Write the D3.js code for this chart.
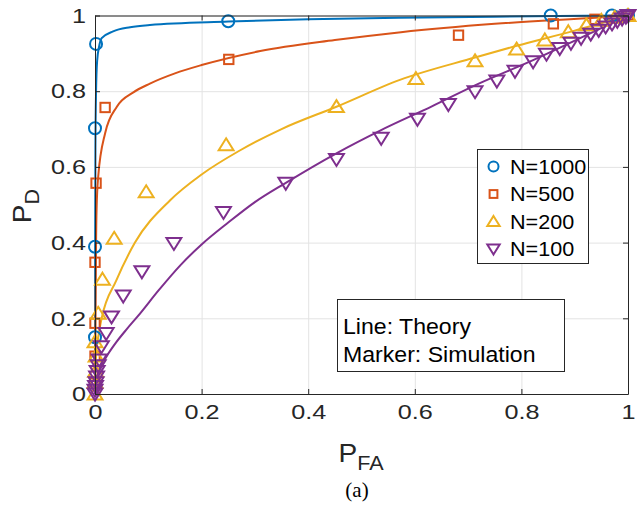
<!DOCTYPE html>
<html>
<head>
<meta charset="utf-8">
<script src="https://cdn.jsdelivr.net/npm/d3@7"></script>
<style>
  body { margin: 0; background: #fff; }
  svg { display: block; font-family: "Liberation Sans", Arial, Helvetica, sans-serif; }
</style>
</head>
<body>
<svg id="chart"></svg>
<script>
let width = 637;
let height = 508;

// axis ticks
let pfaTicks = [0, 0.2, 0.4, 0.6, 0.8, 1];
let pdTicks = [0, 0.2, 0.4, 0.6, 0.8, 1];

let seriesNames = ['N=1000', 'N=500', 'N=200', 'N=100'];
let seriesColors = ['#0072BD', '#D95319', '#EDB120', '#7E2F8E'];
let seriesMarkers = ['circle', 'square', 'triangleUp', 'triangleDown'];

// theory curves [PFA, PD]
let theoryN1000 = [[0, 0], [0.0003, 0.4], [0.0008, 0.65], [0.002, 0.8], [0.004, 0.88], [0.008, 0.92],
  [0.0125, 0.94], [0.034, 0.958], [0.066, 0.969], [0.103, 0.975], [0.25, 0.984], [0.4, 0.99],
  [0.57, 0.994], [0.75, 0.997], [1, 1]];
let theoryN500 = [[0, 0], [0.001, 0.2], [0.002, 0.4], [0.003, 0.49], [0.006, 0.574], [0.019, 0.689],
  [0.041, 0.759], [0.072, 0.797], [0.103, 0.82], [0.15, 0.847], [0.2, 0.869], [0.31, 0.906],
  [0.45, 0.935], [0.574, 0.956], [0.75, 0.978], [0.947, 0.995], [1, 1]];
let theoryN200 = [[0, 0], [0.002, 0.1], [0.006, 0.15], [0.0125, 0.2], [0.04, 0.3], [0.075, 0.4],
  [0.141, 0.512], [0.2, 0.58], [0.27, 0.642], [0.35, 0.7], [0.453, 0.759], [0.572, 0.83],
  [0.713, 0.889], [0.791, 0.92], [0.9, 0.96], [1, 1]];
let theoryN100 = [[0, 0], [0.003, 0.04], [0.01, 0.07], [0.022, 0.1], [0.04, 0.137], [0.06, 0.172],
  [0.08, 0.205], [0.12, 0.275], [0.16, 0.34], [0.2, 0.395], [0.25, 0.453], [0.3, 0.507], [0.358, 0.558],
  [0.453, 0.636], [0.535, 0.696], [0.632, 0.76], [0.72, 0.82], [0.822, 0.882], [0.916, 0.944], [1, 1]];

// simulation markers [PFA, PD]
let simN1000 = [[0, 0.15], [0, 0.389], [0, 0.702], [0.002, 0.925], [0.25, 0.985], [0.855, 1.0],
  [0.97, 1.0], [1, 1]];
let simN500 = [[0, 0.03], [0, 0.1], [0, 0.187], [0, 0.348], [0.002, 0.557], [0.019, 0.757],
  [0.251, 0.884], [0.682, 0.948], [0.86, 0.978], [0.938, 0.99], [1, 1]];
let simN200 = [[0, 0], [0, 0.03], [0.001, 0.06], [0.002, 0.1], [0, 0.138], [0.006, 0.213],
  [0.014, 0.303], [0.036, 0.411], [0.096, 0.534], [0.246, 0.658], [0.453, 0.759], [0.602, 0.833],
  [0.713, 0.88], [0.791, 0.911], [0.844, 0.935], [0.888, 0.957], [0.922, 0.975], [0.95, 0.987],
  [0.975, 0.995], [1, 1]];
let simN100 = [[0, 0], [0, 0.01], [0.001, 0.02], [0.002, 0.03], [0.003, 0.045], [0.004, 0.06],
  [0.006, 0.075], [0.008, 0.09], [0.012, 0.125], [0.021, 0.16], [0.031, 0.204], [0.053, 0.259],
  [0.088, 0.323], [0.148, 0.398], [0.241, 0.48], [0.358, 0.557], [0.453, 0.62], [0.537, 0.676],
  [0.605, 0.726], [0.663, 0.765], [0.713, 0.799], [0.754, 0.827], [0.788, 0.853], [0.822, 0.878],
  [0.847, 0.898], [0.872, 0.913], [0.893, 0.927], [0.912, 0.94], [0.93, 0.951], [0.945, 0.961],
  [0.958, 0.97], [0.97, 0.978], [0.98, 0.985], [0.989, 0.991], [0.996, 0.996], [1, 1]];

let theory = [theoryN1000, theoryN500, theoryN200, theoryN100];
let sims = [simN1000, simN500, simN200, simN100];

let plotLeft = 95, plotRight = 628, plotTop = 15.5, plotBottom = 394;
let axisColor = '#262626';
let tickStretch = 1.2;

let xScale = d3.scaleLinear().domain([0, 1]).range([plotLeft, plotRight]);
let yScale = d3.scaleLinear().domain([0, 1]).range([plotBottom, plotTop]);

let svg = d3.select('#chart')
  .attr('width', width)
  .attr('height', height);

svg.append('rect').attr('width', width).attr('height', height).attr('fill', '#fff');

// grid
svg.append('g')
    .attr('transform', `translate(0, ${plotBottom})`)
    .classed('grid', true)
  .call(d3.axisBottom(xScale).tickValues(pfaTicks).tickSize(-(plotBottom - plotTop)).tickFormat(''));
svg.append('g')
    .attr('transform', `translate(${plotLeft}, 0)`)
    .classed('grid', true)
  .call(d3.axisLeft(yScale).tickValues(pdTicks).tickSize(-(plotRight - plotLeft)).tickFormat(''));
svg.selectAll('.grid .domain').remove();
svg.selectAll('.grid line').attr('stroke', '#e3e3e3').attr('stroke-width', 1);

// theory lines
let line = d3.line()
  .x(d => xScale(d[0]))
  .y(d => yScale(d[1]))
  .curve(d3.curveMonotoneX);

svg.append('g')
  .selectAll('path')
  .data(theory)
  .enter()
  .append('path')
    .attr('d', line)
    .attr('fill', 'none')
    .attr('stroke', (d, i) => seriesColors[i])
    .attr('stroke-width', 2);

// markers
function drawMarker(g, type, color, size) {
  if (type === 'circle') {
    g.append('circle').attr('r', size * 0.5).attr('fill', 'none')
      .attr('stroke', color).attr('stroke-width', 2);
  } else if (type === 'square') {
    let s = size * 0.78;
    g.append('rect').attr('x', -s / 2).attr('y', -s / 2).attr('width', s).attr('height', s)
      .attr('fill', 'none').attr('stroke', color).attr('stroke-width', 2);
  } else {
    let w = size * 0.62, h = size * 0.5;
    let pts = type === 'triangleUp'
      ? [[0, -h * 1.1], [w, h * 0.9], [-w, h * 0.9]]
      : [[0, h * 1.1], [w, -h * 0.9], [-w, -h * 0.9]];
    g.append('path').attr('d', 'M' + pts.join('L') + 'Z').attr('fill', 'none')
      .attr('stroke', color).attr('stroke-width', 2).attr('stroke-linejoin', 'miter');
  }
}

sims.forEach((s, i) => {
  svg.append('g')
    .selectAll('g')
    .data(s)
    .enter()
    .append('g')
      .attr('transform', d => `translate(${xScale(d[0])}, ${yScale(d[1])})`)
      .each(function () { drawMarker(d3.select(this), seriesMarkers[i], seriesColors[i], 12); });
});

// axes (box with inward ticks)
let fmt = d3.format('~g');
let xAxis = svg.append('g')
    .attr('transform', `translate(0, ${plotBottom})`)
  .call(d3.axisBottom(xScale).tickValues(pfaTicks).tickSize(-5).tickSizeOuter(0)
    .tickPadding(10).tickFormat(fmt));
let xTop = svg.append('g')
    .attr('transform', `translate(0, ${plotTop})`)
  .call(d3.axisTop(xScale).tickValues(pfaTicks).tickSize(-5).tickSizeOuter(0).tickFormat(''));
let yAxis = svg.append('g')
    .attr('transform', `translate(${plotLeft}, 0)`)
  .call(d3.axisLeft(yScale).tickValues(pdTicks).tickSize(-5).tickSizeOuter(0)
    .tickPadding(9 / tickStretch).tickFormat(fmt));
let yRight = svg.append('g')
    .attr('transform', `translate(${plotRight}, 0)`)
  .call(d3.axisRight(yScale).tickValues(pdTicks).tickSize(-5).tickSizeOuter(0).tickFormat(''));

[xAxis, xTop, yAxis, yRight].forEach(a => {
  a.select('.domain').attr('stroke', axisColor).attr('stroke-width', 1);
  a.selectAll('line').attr('stroke', axisColor);
  a.selectAll('text').attr('fill', axisColor).style('font-size', '21px')
    .attr('transform', `scale(${tickStretch}, 1)`)
    .style('font-family', '"Liberation Sans", Arial, sans-serif');
});

// axis labels
let xLabel = svg.append('text')
  .attr('transform', 'translate(361, 462) scale(1.08, 1)')
  .attr('text-anchor', 'middle')
  .attr('fill', axisColor)
  .style('font-size', '26px');
xLabel.append('tspan').text('P');
xLabel.append('tspan').attr('dy', 8).style('font-size', '20px').text('FA');

let yLabel = svg.append('text')
  .attr('transform', 'translate(31, 206) rotate(-90) scale(1.08, 1)')
  .attr('text-anchor', 'middle')
  .attr('fill', axisColor)
  .style('font-size', '26px');
yLabel.append('tspan').text('P');
yLabel.append('tspan').attr('dy', 8).style('font-size', '20px').text('D');

// legend
let legend = svg.append('g');
legend.append('rect')
  .attr('x', 477.5).attr('y', 149.5).attr('width', 111).attr('height', 114)
  .attr('fill', '#fff').attr('stroke', '#262626').attr('stroke-width', 1);
seriesNames.forEach((name, i) => {
  let yy = 166.5 + i * 27.5;
  let g = legend.append('g').attr('transform', `translate(493.5, ${yy})`);
  drawMarker(g, seriesMarkers[i], seriesColors[i], 10);
  legend.append('text')
    .attr('transform', `translate(510, ${yy}) scale(1.08, 1)`)
    .attr('dy', '0.36em')
    .attr('fill', '#000').style('font-size', '20px')
    .text(name);
});

// annotation box
let note = svg.append('g');
note.append('rect')
  .attr('x', 337.5).attr('y', 299.5).attr('width', 227).attr('height', 72)
  .attr('fill', '#fff').attr('stroke', '#262626').attr('stroke-width', 1);
note.append('text').attr('transform', 'translate(343, 334) scale(1.05, 1)').attr('fill', '#000')
  .style('font-size', '22px').text('Line: Theory');
note.append('text').attr('transform', 'translate(343, 362) scale(1.05, 1)').attr('fill', '#000')
  .style('font-size', '22px').text('Marker: Simulation');

// caption
svg.append('text')
  .attr('x', 357).attr('y', 497)
  .attr('text-anchor', 'middle')
  .attr('fill', '#000')
  .style('font-family', '"Liberation Serif", "Times New Roman", serif')
  .style('font-size', '21px')
  .text('(a)');
</script>
</body>
</html>
